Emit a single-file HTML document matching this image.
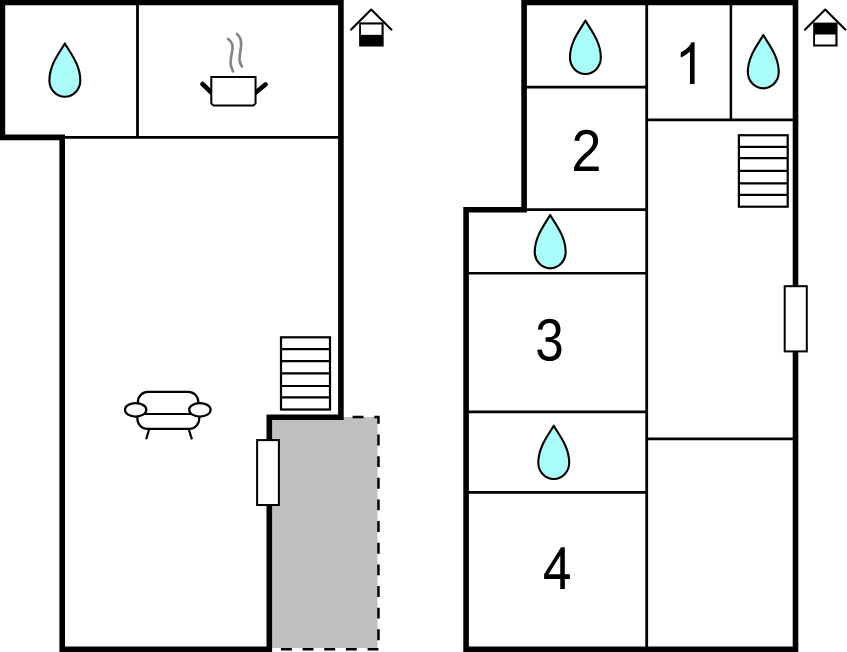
<!DOCTYPE html>
<html><head><meta charset="utf-8"><title>Floor plan</title>
<style>
html,body{margin:0;padding:0;background:#fff;width:847px;height:652px;overflow:hidden}
svg{display:block;position:absolute;left:0;top:0}
text{font-family:"Liberation Sans",sans-serif;font-size:58px;fill:#000}
</style></head><body>
<svg width="847" height="652" viewBox="0 0 847 652">
<defs>
<path id="drop" d="M0,1.2 C4.6,9.5 15.45,22 15.45,38.2 A15.45,16.35 0 0 1 -15.45,38.2 C-15.45,22 -4.6,9.5 0,1.2 Z" fill="#abfdf9" stroke="#000" stroke-width="2.1" stroke-linejoin="round"/>
</defs>

<!-- LEFT BUILDING -->
<!-- garage gray -->
<rect x="271" y="417" width="106.5" height="231" fill="#c0c0c0"/>
<path d="M343.8,417.05 H378.45 V649.2" fill="none" stroke="#000" stroke-width="2.5" stroke-dasharray="10.9 10.75" stroke-dashoffset="12.85"/>
<path d="M378.45,649.2 H272" fill="none" stroke="#000" stroke-width="2.5" stroke-dasharray="10.9 10.75"/>
<!-- thin interior -->
<line x1="137.5" y1="0" x2="137.5" y2="137.5" stroke="#000" stroke-width="2.8"/>
<line x1="62" y1="137.4" x2="341" y2="137.4" stroke="#000" stroke-width="2.8"/>
<!-- outer walls -->
<path d="M2.4,2.5 H340.9 V417.2 H269.3 V649.3 H62.2 V137.4 H2.4 Z" fill="none" stroke="#000" stroke-width="5.6" stroke-linejoin="miter"/>

<!-- RIGHT BUILDING -->
<line x1="646.7" y1="0" x2="646.7" y2="650" stroke="#000" stroke-width="2.8"/>
<line x1="730.9" y1="0" x2="730.9" y2="119.9" stroke="#000" stroke-width="2.5"/>
<line x1="524" y1="87.1" x2="646.7" y2="87.1" stroke="#000" stroke-width="2.6"/>
<line x1="646.7" y1="119.9" x2="795.5" y2="119.9" stroke="#000" stroke-width="2.6"/>
<line x1="524" y1="209.6" x2="646.7" y2="209.6" stroke="#000" stroke-width="2.6"/>
<line x1="466" y1="273.3" x2="646.7" y2="273.3" stroke="#000" stroke-width="2.6"/>
<line x1="466" y1="411.8" x2="646.7" y2="411.8" stroke="#000" stroke-width="2.7"/>
<line x1="466" y1="492.4" x2="646.7" y2="492.4" stroke="#000" stroke-width="2.7"/>
<line x1="646.7" y1="438.9" x2="795.5" y2="438.9" stroke="#000" stroke-width="2.7"/>
<path d="M524.1,2.5 H795.5 V649.3 H466.1 V209.8 H524.1 Z" fill="none" stroke="#000" stroke-width="5.6" stroke-linejoin="miter"/>

<!-- drops -->
<use href="#drop" x="64.85" y="42.2"/>
<use href="#drop" x="585.4" y="19.4"/>
<use href="#drop" x="763.3" y="33.8"/>
<use href="#drop" x="550.2" y="213.8"/>
<use href="#drop" x="553.75" y="424.5"/>

<!-- numbers -->
<g fill="#000">
<path transform="translate(675.030,83.900) scale(0.025648,-0.028329)" d="M763 0H583V1147Q518 1085 412 1023Q306 961 223 930V1104Q374 1175 487 1276Q600 1377 647 1472H763Z"/>
<path transform="translate(571.384,171.000) scale(0.026367,-0.028839)" d="M103 0V127Q154 244 227.5 333.5Q301 423 382.0 495.5Q463 568 542.5 630.0Q622 692 686.0 754.0Q750 816 789.5 884.0Q829 952 829 1038Q829 1154 761.0 1218.0Q693 1282 572 1282Q457 1282 382.5 1219.5Q308 1157 295 1044L111 1061Q131 1230 254.5 1330.0Q378 1430 572 1430Q785 1430 899.5 1329.5Q1014 1229 1014 1044Q1014 962 976.5 881.0Q939 800 865.0 719.0Q791 638 582 468Q467 374 399.0 298.5Q331 223 301 153H1036V0Z"/>
<path transform="translate(535.248,360.417) scale(0.025026,-0.029131)" d="M1049 389Q1049 194 925.0 87.0Q801 -20 571 -20Q357 -20 229.5 76.5Q102 173 78 362L264 379Q300 129 571 129Q707 129 784.5 196.0Q862 263 862 395Q862 510 773.5 574.5Q685 639 518 639H416V795H514Q662 795 743.5 859.5Q825 924 825 1038Q825 1151 758.5 1216.5Q692 1282 561 1282Q442 1282 368.5 1221.0Q295 1160 283 1049L102 1063Q122 1236 245.5 1333.0Q369 1430 563 1430Q775 1430 892.5 1331.5Q1010 1233 1010 1057Q1010 922 934.5 837.5Q859 753 715 723V719Q873 702 961.0 613.0Q1049 524 1049 389Z"/>
<path transform="translate(543.516,589.000) scale(0.025394,-0.028513)" d="M659 0V351H23V516L692 1466H839V516H1037V351H839V0ZM659 516V1177L200 516Z"/>
</g>

<!-- stairs left -->
<g fill="#fff" stroke="#000" stroke-width="2.2">
<rect x="281" y="337.3" width="49" height="72.2"/>
<path d="M281,349.2 H330 M281,361.1 H330 M281,373.4 H330 M281,386 H330 M281,397.3 H330"/>
</g>
<!-- stairs right -->
<g fill="#fff" stroke="#000" stroke-width="2.2">
<rect x="738.9" y="135.25" width="48.8" height="71.45"/>
<path d="M738.9,146.85 H787.7 M738.9,158.15 H787.7 M738.9,170.9 H787.7 M738.9,183.4 H787.7 M738.9,194.85 H787.7"/>
</g>

<!-- doors -->
<rect x="257.1" y="440.1" width="21.8" height="64.9" fill="#fff" stroke="#000" stroke-width="2"/>
<rect x="784.7" y="286.2" width="22.1" height="65.2" fill="#fff" stroke="#000" stroke-width="2"/>

<!-- sofa -->
<g fill="none" stroke="#000" stroke-width="2.2" stroke-linecap="butt">
<path d="M137.9,414 V402 A10,10 0 0 1 147.9,391.9 H188.3 A10,10 0 0 1 198.3,401.9 V414"/>
<path d="M137.4,410 V419 A10,10 0 0 0 147.4,428.9 H189.2 A10,10 0 0 0 199.2,419 V410"/>
<line x1="143" y1="414" x2="193" y2="414"/>
<line x1="149.2" y1="429" x2="146.2" y2="439.3"/>
<line x1="188.7" y1="429" x2="191.9" y2="439.3"/>
<ellipse cx="135.65" cy="409.85" rx="10.7" ry="6.8" fill="#fff"/>
<ellipse cx="199.9" cy="409.85" rx="10.7" ry="6.8" fill="#fff"/>
</g>

<!-- pot -->
<g stroke="#000" fill="none">
<line x1="202.5" y1="84" x2="213.5" y2="94.7" stroke-width="4.6" stroke-linecap="round"/>
<line x1="265.5" y1="84.5" x2="253.5" y2="94.3" stroke-width="4.6" stroke-linecap="round"/>
<path d="M211.3,76.9 H255.55 V103.4 L253.3,105.6 H213.5 L211.3,103.4 Z" stroke-width="2" fill="#fff"/>
</g>
<g stroke="#858585" fill="none" stroke-width="2.7" stroke-linecap="round">
<path d="M228,38.8 C233,42 233,48 232,52 C231,57 230,62 231,66 C231.5,68 232.5,70 233,71.3"/>
<path d="M237,34 C241,37 241.5,42 241,47 C240.5,51 239.5,56 239.5,60 C240,63 241,65 242,66.5"/>
</g>

<!-- house icons -->
<g stroke="#000" fill="none" stroke-width="2.1" stroke-linejoin="round">
<polyline points="350.4,30.3 371.2,9.5 392.0,30.3"/>
<polyline points="804.4,30.3 825.2,9.5 846.0,30.3"/>
</g>
<rect x="359.15" y="22.4" width="24.5" height="24.1" fill="#000"/>
<rect x="360.95" y="24.5" width="20.6" height="10.35" fill="#fff"/>
<rect x="813.15" y="22.6" width="24.4" height="23.9" fill="#000"/>
<rect x="815.05" y="34.5" width="20.3" height="10.0" fill="#fff"/>
</svg>
</body></html>
